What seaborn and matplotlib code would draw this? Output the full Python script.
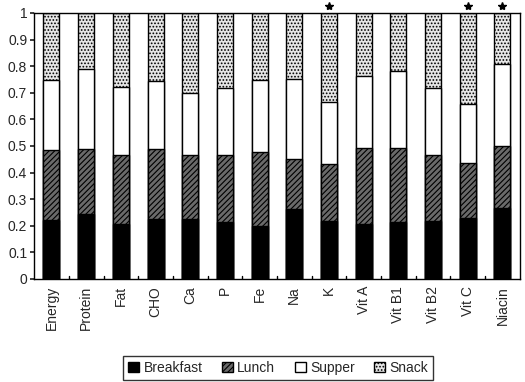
import numpy as np
import pandas as pd
import matplotlib
matplotlib.use("Agg")
import matplotlib.pyplot as plt
import seaborn as sns
from matplotlib.patches import Patch

categories = ["Energy", "Protein", "Fat", "CHO", "Ca", "P", "Fe", "Na", "K",
              "Vit A", "Vit B1", "Vit B2", "Vit C", "Niacin"]
breakfast = [0.223, 0.244, 0.208, 0.226, 0.226, 0.213, 0.200, 0.263, 0.216,
             0.205, 0.213, 0.217, 0.229, 0.267]
lunch = [0.260, 0.245, 0.258, 0.264, 0.239, 0.254, 0.279, 0.189, 0.216,
         0.286, 0.278, 0.249, 0.206, 0.233]
supper = [0.264, 0.299, 0.257, 0.255, 0.234, 0.252, 0.269, 0.300, 0.232,
          0.273, 0.291, 0.252, 0.222, 0.307]
snack = [0.253, 0.212, 0.277, 0.255, 0.301, 0.281, 0.252, 0.248, 0.336,
         0.236, 0.218, 0.282, 0.343, 0.193]
starred = ["K", "Vit C", "Niacin"]
series_names = ["Breakfast", "Lunch", "Supper", "Snack"]

sns.set_theme(style="white")
plt.rcParams["font.family"] = ["Liberation Sans", "DejaVu Sans"]
plt.rcParams["hatch.linewidth"] = 0.8

df = pd.DataFrame({"cat": categories, "Breakfast": breakfast, "Lunch": lunch,
                   "Supper": supper, "Snack": snack})
df["c1"] = df["Breakfast"]
df["c2"] = df["c1"] + df["Lunch"]
df["c3"] = df["c2"] + df["Supper"]
df["c4"] = df["c3"] + df["Snack"]

fig = plt.figure(figsize=(5.25, 3.82), dpi=100)
ax = fig.add_axes([0.065, 0.27, 0.925, 0.696])

lunch_col = "#6a6a6a"
snack_col = "#e6e6e6"
styles = [
    ("c4", dict(color=snack_col, hatch=".....")),
    ("c3", dict(color="white", hatch=None)),
    ("c2", dict(color=lunch_col, hatch="//////")),
    ("c1", dict(color="black", hatch=None)),
]
for col, st in styles:
    sns.barplot(data=df, x="cat", y=col, ax=ax, color=st["color"],
                hatch=st["hatch"], edgecolor="black", linewidth=1.0,
                width=0.46, saturation=1, errorbar=None)

ax.set_ylim(0, 1)
ax.set_xlim(-0.5, len(categories) - 0.5)
ax.set_yticks(np.arange(0, 1.01, 0.1))
ax.set_yticklabels(["0"] + [f"{v:.1f}" for v in np.arange(0.1, 0.95, 0.1)] + ["1"])
ax.set_xticks(range(len(categories)))
ax.set_xticklabels(categories, rotation=90, fontsize=10)
ax.tick_params(axis="x", length=0, pad=5)
ax.tick_params(axis="y", labelsize=10, length=3, direction="out", left=True, pad=2)
for b in np.arange(0.5, len(categories) - 0.5, 1):
    ax.plot([b, b], [0, 0.012], color="black", lw=1)
ax.set_xlabel("")
ax.set_ylabel("")
for s in ax.spines.values():
    s.set_visible(True)
    s.set_color("black")
    s.set_linewidth(1.0)

star_x = [categories.index(n) for n in starred]
ax.plot(star_x, [1.028] * len(star_x), linestyle="none", marker="*",
        markersize=6, color="black", clip_on=False)

handles = [
    Patch(facecolor="black", edgecolor="black", label=series_names[0]),
    Patch(facecolor=lunch_col, edgecolor="black", hatch="//////", label=series_names[1]),
    Patch(facecolor="white", edgecolor="black", label=series_names[2]),
    Patch(facecolor=snack_col, edgecolor="black", hatch=".....", label=series_names[3]),
]
leg = fig.legend(handles=handles, loc="lower center", bbox_to_anchor=(0.53, -0.012),
                 ncol=4, fontsize=10, frameon=True, fancybox=False,
                 handlelength=0.8, handleheight=0.8, handletextpad=0.3,
                 columnspacing=1.4, borderpad=0.35)
leg.get_frame().set_edgecolor("black")
leg.get_frame().set_linewidth(1.0)

fig.savefig("out.png", dpi=100)
